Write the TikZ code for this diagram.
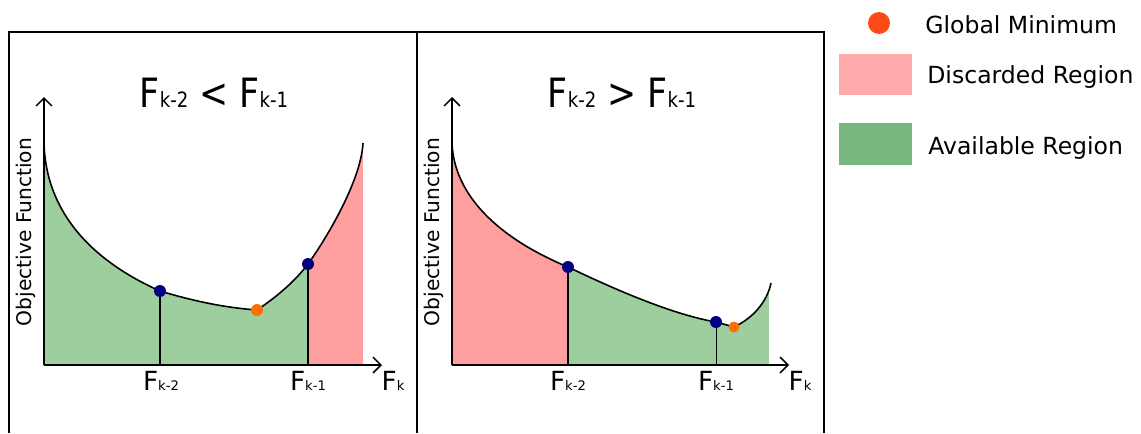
\documentclass[tikz,border=0pt]{standalone}
\usepackage{fontspec}
\setmainfont{DejaVu Sans}
\usetikzlibrary{arrows.meta}
\usetikzlibrary{positioning}

\definecolor{availgreen}{RGB}{157,206,157}
\definecolor{discpink}{RGB}{255,158,158}
\definecolor{legpink}{RGB}{255,170,170}
\definecolor{leggreen}{RGB}{119,183,127}
\definecolor{dotblue}{RGB}{0,0,128}
\definecolor{minorange}{RGB}{255,112,0}
\definecolor{legorange}{RGB}{252,74,20}

\newcommand{\fsub}[2]{F{\fontsize{#2}{#2}\selectfont #1}}
\newcommand{\curveleft}{(44,143) .. controls (46,215) and (95,262) .. (160,291)
  .. controls (200,303) and (230,308) .. (257,310)
  .. controls (272,300) and (293,284) .. (308,264)
  .. controls (324,242) and (361,182) .. (363,143)}
\newcommand{\curveright}{(452,143) .. controls (454,195) and (498,238) .. (568,267)
  .. controls (620,292) and (675,315) .. (716,322)
  -- (734,327)
  .. controls (753,318) and (767,302) .. (771,283)}

\begin{document}
\begin{tikzpicture}[x=0.02cm, y=-0.02cm, >={Straight Barb[length=4.5pt,width=9pt]},
	frameline/.style={line width=1.1pt},
	axisline/.style={line width=0.9pt, ->},
	curveline/.style={line width=0.9pt},
	pointdot/.style={circle, inner sep=0pt, minimum size=0.24cm},
	ticklabel/.style={anchor=base, font=\fontsize{15}{15}\selectfont},
	titletext/.style={anchor=base, font=\fontsize{23}{23}\selectfont},
	legendtext/.style={anchor=base west, inner sep=0pt, font=\fontsize{13.4}{13.4}\selectfont}]
	\useasboundingbox (0,0) rectangle (1141,433);

	% panels
	\draw[frameline] (9,433) -- (9,32) -- (824,32) -- (824,433);
	\draw[frameline] (417,32) -- (417,433);

	% left panel: F_{k-2} < F_{k-1}
	\coordinate (Lo) at (44,365);
	\coordinate (Ly) at (44,97);
	\coordinate (Lx) at (382,365);
	\coordinate (La) at (160,291);
	\coordinate (Lb) at (308,264);
	\coordinate (Lm) at (257,310);
	\begin{scope}
		\clip \curveleft -- (363,365) -- (44,365) -- cycle;
		\fill[availgreen] (44,100) rectangle (308,365);
		\fill[discpink] (308,100) rectangle (363,365);
	\end{scope}
	\draw[curveline] (La) -- (La |- Lo);
	\draw[curveline] (Lb) -- (Lb |- Lo);
	\draw[curveline] \curveleft;
	\draw[axisline] (Lo) -- (Ly);
	\draw[axisline] (Lo) -- (Lx);
	\node[pointdot, fill=dotblue] (La dot) at (La) {};
	\node[pointdot, fill=dotblue] (Lb dot) at (Lb) {};
	\node[pointdot, fill=minorange] (Lm dot) at (Lm) {};
	\node[ticklabel] (La lab) at (161,390) {\fsub{k-2}{7.5}};
	\node[ticklabel] (Lb lab) at (308,390) {\fsub{k-1}{7.5}};
	\node[ticklabel] (Lx lab) at (393,390) {\fsub{k}{7.5}};
	\node[titletext] (Ltitle) at (214,107) {\scalebox{0.86}[1]{\fsub{k-2}{12} < \fsub{k-1}{12}}};
	\node[rotate=90, font=\fontsize{11.5}{11.5}\selectfont] (Lylab) at (26,232) {Objective Function};

	% right panel: F_{k-2} > F_{k-1}
	\coordinate (Ro) at (452,365);
	\coordinate (Ry) at (452,97);
	\coordinate (Rx) at (789,365);
	\coordinate (Ra) at (568,267);
	\coordinate (Rb) at (716,322);
	\coordinate (Rm) at (734,327);
	\begin{scope}
		\clip \curveright -- (771,365) -- (452,365) -- cycle;
		\fill[discpink] (452,100) rectangle (568,365);
		\fill[availgreen] (568,100) rectangle (769,365);
	\end{scope}
	\draw[curveline] (Ra) -- (Ra |- Ro);
	\draw[line width=0.5pt] (Rb) -- (Rb |- Ro);
	\draw[curveline] \curveright;
	\draw[axisline] (Ro) -- (Ry);
	\draw[axisline] (Ro) -- (Rx);
	\node[pointdot, fill=dotblue] (Ra dot) at (Ra) {};
	\node[pointdot, fill=dotblue] (Rb dot) at (Rb) {};
	\node[pointdot, fill=minorange, minimum size=0.22cm] (Rm dot) at (Rm) {};
	\node[ticklabel] (Ra lab) at (568,390) {\fsub{k-2}{7.5}};
	\node[ticklabel] (Rb lab) at (716,390) {\fsub{k-1}{7.5}};
	\node[ticklabel] (Rx lab) at (800,390) {\fsub{k}{7.5}};
	\node[titletext] (Rtitle) at (622,107) {\scalebox{0.86}[1]{\fsub{k-2}{12} > \fsub{k-1}{12}}};
	\node[rotate=90, font=\fontsize{11.5}{11.5}\selectfont] (Rylab) at (434,232) {Objective Function};

	% legend
	\node[circle, fill=legorange, inner sep=0pt, minimum size=0.44cm] (legmin) at (879,23) {};
	\node[legendtext] (legmintext) at (925,33) {Global Minimum};
	\fill[legpink] (839,54) rectangle (912,95);
	\node[legendtext] (legdisc) at (927,83) {Discarded Region};
	\fill[leggreen] (839,123) rectangle (912,165);
	\node[legendtext] (legavail) at (928,154) {Available Region};
\end{tikzpicture}
\end{document}
